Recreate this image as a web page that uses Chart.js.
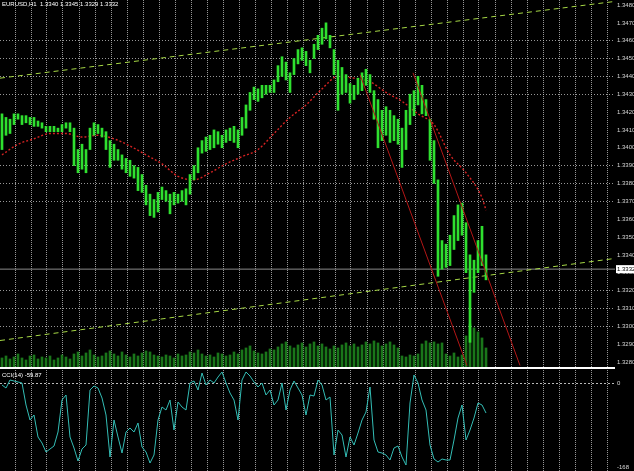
<!DOCTYPE html>
<html>
<head>
<meta charset="utf-8">
<script src="https://cdn.jsdelivr.net/npm/chart.js@4.4.1/dist/chart.umd.min.js"></script>
<style>
  html, body { margin: 0; padding: 0; background: #000; }
  #wrap { position: relative; width: 634px; height: 471px; background: #000; overflow: hidden; }
  #main { position: absolute; left: 0; top: 0; }
  #sub { position: absolute; left: 0; top: 370px; }
  #sep { position: absolute; left: 0; top: 367px; width: 615px; height: 2px; background: #fff; }
  .cap { position: absolute; color: #fff; font: 6px 'Liberation Sans', Arial, sans-serif; white-space: pre; }
</style>
</head>
<body>
<div id="wrap">
  <canvas id="main" width="634" height="368"></canvas>
  <canvas id="sub" width="634" height="101"></canvas>
  <div id="sep"></div>
  <div class="cap" style="left:2px;top:1px;">EURUSD,H1  1.3340 1.3345 1.3329 1.3332</div>
  <div class="cap" style="left:2px;top:372px;">CCI(14) -59.87</div>
</div>
<script>
// hourly bars, high / low
const priceHigh = [
  1.3419, 1.3417, 1.3416, 1.3419, 1.3419, 1.3418, 1.3418, 1.3417, 1.3417, 1.3415,
  1.3414, 1.3412, 1.3412, 1.3412, 1.3411, 1.3413, 1.3414, 1.3414, 1.3411, 1.3399,
  1.3402, 1.3399, 1.3411, 1.3414, 1.3413, 1.3411, 1.3409, 1.3404, 1.3402, 1.3399,
  1.3396, 1.3394, 1.3393, 1.3390, 1.3389, 1.3385, 1.3379, 1.3374, 1.3371, 1.3375,
  1.3378, 1.3376, 1.3374, 1.3375, 1.3374, 1.3376, 1.3377, 1.3385, 1.3390, 1.3400,
  1.3404, 1.3406, 1.3407, 1.3410, 1.3409, 1.3407, 1.3410, 1.3411, 1.3412, 1.3410,
  1.3417, 1.3424, 1.3431, 1.3434, 1.3433, 1.3435, 1.3435, 1.3435, 1.3438, 1.3446,
  1.3451, 1.3448, 1.3442, 1.3450, 1.3455, 1.3456, 1.3454, 1.3449, 1.3458, 1.3463,
  1.3467, 1.3470, 1.3463, 1.3455, 1.3449, 1.3445, 1.3441, 1.3436, 1.3435, 1.3439,
  1.3442, 1.3444, 1.3441, 1.3432, 1.3427, 1.3421, 1.3423, 1.3421, 1.3418, 1.3416,
  1.3411, 1.3421, 1.3430, 1.3432, 1.3440, 1.3435, 1.3427, 1.3416, 1.3404, 1.3382,
  1.3348, 1.3346, 1.3351, 1.3362, 1.3368, 1.3369, 1.3358, 1.3340, 1.3337, 1.3348,
  1.3356, 1.3340
];
const priceLow = [
  1.3399, 1.3407, 1.3408, 1.3413, 1.3416, 1.3413, 1.3414, 1.3413, 1.3412, 1.3412,
  1.3411, 1.3409, 1.3409, 1.3409, 1.3409, 1.3409, 1.3411, 1.3409, 1.3390, 1.3386,
  1.3388, 1.3386, 1.3399, 1.3407, 1.3408, 1.3406, 1.3399, 1.3389, 1.3393, 1.3393,
  1.3388, 1.3386, 1.3384, 1.3383, 1.3376, 1.3375, 1.3368, 1.3362, 1.3361, 1.3364,
  1.3371, 1.3370, 1.3363, 1.3368, 1.3369, 1.3370, 1.3368, 1.3374, 1.3382, 1.3386,
  1.3397, 1.3398, 1.3399, 1.3400, 1.3402, 1.3400, 1.3403, 1.3404, 1.3403, 1.3400,
  1.3407, 1.3411, 1.3421, 1.3427, 1.3426, 1.3428, 1.3430, 1.3431, 1.3431, 1.3437,
  1.3440, 1.3438, 1.3431, 1.3441, 1.3447, 1.3449, 1.3446, 1.3442, 1.3450, 1.3455,
  1.3458, 1.3461, 1.3456, 1.3441, 1.3421, 1.3430, 1.3431, 1.3425, 1.3427, 1.3430,
  1.3432, 1.3435, 1.3431, 1.3416, 1.3400, 1.3404, 1.3407, 1.3403, 1.3404, 1.3402,
  1.3389, 1.3399, 1.3413, 1.3418, 1.3424, 1.3419, 1.3418, 1.3393, 1.3380, 1.3328,
  1.3332, 1.3333, 1.3334, 1.3343, 1.3348, 1.3351, 1.3330, 1.3291, 1.3319, 1.3330,
  1.3334, 1.3326
];
const volume = [
  50, 60, 45, 55, 70, 50, 40, 60, 65, 45, 55, 50, 60, 40, 50, 65, 55, 45,
  70, 80, 60, 75, 90, 65, 55, 60, 75, 85, 70, 60, 80, 65, 55, 70, 60, 75, 85, 80, 65, 60,
  55, 65, 60, 50, 70, 60, 65, 80, 75, 90, 70, 60, 65, 55, 75, 70, 60, 65, 80, 70,
  90, 100, 110, 85, 75, 70, 80, 95, 90, 105, 120, 130, 110, 100, 115, 125, 105, 120, 130, 110,
  120, 105, 95, 110, 100, 115, 125, 110, 120, 105, 115, 130, 120, 135, 125, 110, 120, 130, 115, 100,
  60, 55, 65, 60, 70, 120, 135, 125, 130, 120, 125, 70, 60, 75, 55, 65, 160, 220, 200, 180, 150, 100
];
// moving average, sampled every 4 bars
const maBars = [0, 4, 8, 12, 16, 20, 24, 28, 32, 36, 40, 44, 48, 52, 56, 60,
  64, 68, 72, 76, 80, 84, 88, 92, 96, 100, 104, 108, 112, 116, 120, 121];
const maValues = [1.3396, 1.3402, 1.3405, 1.3408, 1.3408, 1.3406, 1.3407, 1.3405,
  1.3401, 1.3396, 1.3391, 1.3384, 1.3382, 1.3386, 1.3391, 1.3395, 1.3399, 1.3408,
  1.3417, 1.3424, 1.3433, 1.3440, 1.3439, 1.3437, 1.3431, 1.3426, 1.3419, 1.3413,
  1.3396, 1.3386, 1.3372, 1.3365];
// oscillator (sub window)
const oscValues = [
  -4, -10, 6, 4, 2, 0, -44, -74, -64, -108,
  -120, -138, -132, -126, -98, -34, -24, -108, -130, -156,
  -132, -124, -14, -6, -10, -30, -64, -148, -74, -108,
  -140, -98, -90, -98, -80, -128, -138, -160, -144, -74,
  -48, -54, -34, -94, -38, -48, -54, 0, 4, -14,
  20, -4, 6, 0, 12, 22, 0, -20, -34, -74,
  6, 22, 14, 2, -8, 0, -24, -14, -44, -34,
  0, -54, -14, 4, -10, -24, -64, -24, -26, 6,
  -4, -34, -28, -144, -94, -104, -148, -108, -124, -100,
  -74, -58, -8, -114, -138, -140, -144, -154, -130, -126,
  -148, -164, -40, 16, 0, -34, -54, -124, -152, -158,
  -152, -154, -154, -114, -70, -44, -114, -94, -70, -40,
  -44, -60
];
// drawn objects: [bar, price] end points
const trendUpper = [[-0.5, 1.3439], [153.25, 1.3482]];
const trendLower = [[-0.5, 1.3292], [153.25, 1.3338]];
const channelA = [[102.75, 1.3442], [129.5, 1.3278]];
const channelB = [[89.5, 1.3441], [116.25, 1.3278]];
const bidPrice = 1.3332;

const priceTickLabels = ['1.3480', '1.3470', '1.3460', '1.3450', '1.3440', '1.3430', '1.3420',
  '1.3410', '1.3400', '1.3390', '1.3380', '1.3370', '1.3360', '1.3350', '1.3340', '1.3330',
  '1.3320', '1.3310', '1.3300', '1.3290', '1.3280'];
const priceGridLabels = ['1.3460', '1.3450', '1.3440', '1.3430', '1.3390', '1.3380', '1.3370',
  '1.3320', '1.3310', '1.3300'];
const oscTickLabels = ['0', '-168'];

const X_MIN = -0.5, X_MAX = 153.25;
const dotted = 'rgba(200,200,200,0.75)';
const tickFont = { family: 'Liberation Sans', size: 6 };

function pts(arr) { return arr.map(p => ({ x: p[0], y: p[1] })); }

function noPad(s) {
  s.paddingTop = 0; s.paddingBottom = 0; s.paddingLeft = 0; s.paddingRight = 0;
}

function xAxis() {
  return {
    type: 'linear', min: X_MIN, max: X_MAX, offset: false,
    afterBuildTicks: s => {
      const t = [];
      for (let v = 3.25; v < X_MAX; v += 4) t.push({ value: v });
      s.ticks = t;
    },
    afterFit: s => { s.height = 0; noPad(s); },
    ticks: { display: false },
    grid: { color: dotted, lineWidth: 1, drawTicks: false, offset: false },
    border: { display: false, dash: [1, 1] }
  };
}

const bidPlugin = {
  id: 'bidBox',
  afterDraw(chart) {
    const ctx = chart.ctx;
    const y = chart.scales.y.getPixelForValue(bidPrice);
    const x = chart.chartArea.right + 1;
    ctx.save();
    ctx.fillStyle = '#fff';
    ctx.fillRect(x, y - 4, 18, 8);
    ctx.fillStyle = '#000';
    ctx.font = '6px Liberation Sans';
    ctx.textBaseline = 'middle';
    ctx.fillText(bidPrice.toFixed(4), x + 1, y + 0.5);
    ctx.restore();
  }
};

new Chart(document.getElementById('main'), {
  type: 'bar',
  data: {
    datasets: [
      {
        type: 'bar', label: 'Volume', yAxisID: 'vol', order: 10, grouped: false,
        data: volume.map((v, i) => ({ x: i, y: v })),
        backgroundColor: '#1a761a', barThickness: 2
      },
      {
        type: 'line', label: 'MA', order: 6,
        data: maBars.map((b, i) => ({ x: b, y: maValues[i] })),
        borderColor: '#d42222', borderWidth: 1.4, borderDash: [2, 2], pointRadius: 0,
        cubicInterpolationMode: 'monotone'
      },
      {
        type: 'line', label: 'Bid', order: 5,
        data: [{ x: X_MIN, y: bidPrice }, { x: X_MAX, y: bidPrice }],
        borderColor: '#8a8a8a', borderWidth: 1, pointRadius: 0
      },
      {
        type: 'line', label: 'Trend up', order: 4, data: pts(trendUpper),
        borderColor: '#a6d845', borderWidth: 1, borderDash: [5, 4], pointRadius: 0
      },
      {
        type: 'line', label: 'Trend low', order: 4, data: pts(trendLower),
        borderColor: '#a6d845', borderWidth: 1, borderDash: [5, 4], pointRadius: 0
      },
      {
        type: 'bar', label: 'Price', order: 3, grouped: false,
        data: priceHigh.map((h, i) => ({ x: i, y: [priceLow[i], h] })),
        backgroundColor: '#2fe02f', barThickness: 2
      },
      {
        type: 'line', label: 'Channel A', order: 2, data: pts(channelA),
        borderColor: '#b31616', borderWidth: 1, pointRadius: 0
      },
      {
        type: 'line', label: 'Channel B', order: 2, data: pts(channelB),
        borderColor: '#b31616', borderWidth: 1, pointRadius: 0
      }
    ]
  },
  options: {
    responsive: false, animation: false, events: [],
    layout: { padding: 0 },
    plugins: { legend: { display: false }, tooltip: { enabled: false } },
    scales: {
      x: xAxis(),
      y: {
        position: 'right', min: 1.32766, max: 1.34828,
        afterBuildTicks: s => { s.ticks = priceTickLabels.map(l => ({ value: parseFloat(l) })); },
        afterFit: s => { s.width = 19; noPad(s); },
        ticks: { color: '#d8d8d8', font: tickFont, padding: 2, callback: v => v.toFixed(4) },
        grid: {
          drawTicks: false, lineWidth: 1,
          color: c => priceGridLabels.includes(c.tick.value.toFixed(4)) ? dotted : 'rgba(0,0,0,0)'
        },
        border: { display: false, dash: [1, 2] }
      },
      vol: { display: false, min: 0, max: 1835 }
    }
  },
  plugins: [bidPlugin]
});

new Chart(document.getElementById('sub'), {
  type: 'line',
  data: {
    datasets: [{
      label: 'CCI', data: oscValues.map((v, i) => ({ x: i, y: v })),
      borderColor: '#33bdb5', borderWidth: 1, pointRadius: 0, tension: 0
    }]
  },
  options: {
    responsive: false, animation: false, events: [],
    layout: { padding: 0 },
    plugins: { legend: { display: false }, tooltip: { enabled: false } },
    scales: {
      x: xAxis(),
      y: {
        position: 'right', min: -176, max: 26,
        afterBuildTicks: s => { s.ticks = oscTickLabels.map(l => ({ value: parseFloat(l) })); },
        afterFit: s => { s.width = 19; noPad(s); },
        ticks: { color: '#d8d8d8', font: tickFont, padding: 2 },
        grid: {
          drawTicks: false, lineWidth: 1,
          color: c => c.tick.value === 0 ? 'rgba(230,230,230,0.8)' : 'rgba(0,0,0,0)'
        },
        border: { display: false, dash: [2, 2] }
      }
    }
  }
});
</script>
</body>
</html>
